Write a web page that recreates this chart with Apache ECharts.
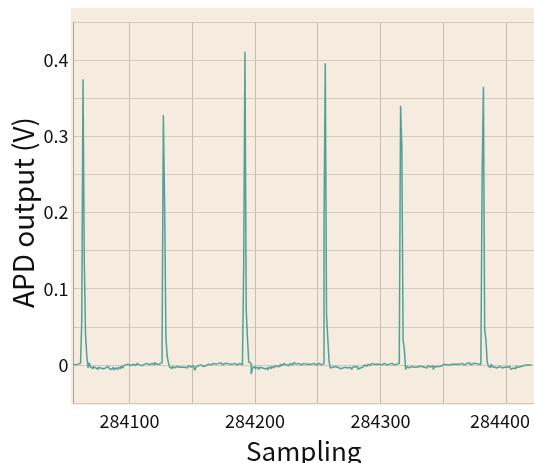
<!DOCTYPE html>
<html>
<head>
<meta charset="utf-8">
<script src="https://cdn.jsdelivr.net/npm/echarts@6/dist/echarts.min.js"></script>
<style>
html,body{margin:0;padding:0;background:#ffffff;}
#chart{width:534px;height:463px;}
</style>
</head>
<body>
<div id="chart"></div>
<script>
// first sampling index of the trace
var startSample = 284055;
// APD output (V), one value per sample, split into baseline stretches and pulses
var base0 = [0.001, 0.000, 0.002, 0.001, 0.000, 0.002, 0.001];
var pulse1 = [0.059, 0.375, 0.134, 0.039, 0.012];
var base1 = [-0.004, 0.003, -0.003, -0.005, -0.002, -0.004, -0.003, -0.006, -0.003, -0.004,
  -0.002, -0.005, -0.003, -0.004, -0.003, -0.002, -0.004, -0.005, -0.006, -0.004,
  -0.003, -0.007, -0.004, -0.006, -0.003, -0.005, -0.002, -0.004,
  -0.001, 0.000, -0.001, 0.001, 0.000, -0.001, 0.000, 0.001, 0.000, -0.001,
  0.001, 0.002, 0.000, 0.001, -0.001, 0.000, 0.001, 0.000, 0.002, 0.001,
  0.000, 0.001, 0.002, 0.001, 0.000, 0.003, 0.001, 0.002, 0.001, 0.002, 0.003];
var pulse2 = [0.029, 0.328, 0.211, 0.038, 0.012];
var base2 = [0.003, -0.003, -0.005, -0.002, -0.004, -0.003, -0.002, -0.004, -0.003, -0.002,
  -0.003, -0.001, -0.003, -0.002, -0.004, -0.002, -0.001, -0.003, -0.002, -0.001,
  -0.002, -0.007, -0.003, -0.001, -0.002, 0.000, -0.001, -0.002, 0.000, -0.001,
  0.000, 0.001, -0.001, 0.000, 0.001, 0.002, 0.000, 0.001, 0.000, 0.002,
  0.001, 0.003, 0.001, 0.000, 0.002, 0.001, 0.002, 0.000, 0.001, 0.002,
  0.001, 0.000, 0.002, 0.001, 0.000, 0.001, 0.002, 0.001, 0.000, 0.002];
var pulse3 = [0.129, 0.411, 0.072, 0.035];
var base3 = [0.004, 0.002, -0.012, -0.004, -0.002, -0.005, -0.003, -0.004, -0.006, -0.003,
  -0.004, -0.002, -0.005, -0.003, -0.004, -0.007, -0.003, -0.005, -0.002, -0.004,
  -0.003, -0.001, -0.002, 0.000, -0.002, 0.001, -0.001, 0.000, 0.002, 0.000,
  0.001, -0.001, 0.001, 0.002, 0.000, 0.001, 0.003, 0.001, 0.000, 0.002,
  0.001, 0.000, 0.001, 0.002, 0.000, 0.001, 0.002, 0.001, 0.003, 0.001,
  0.000, 0.002, 0.001, 0.000, 0.001, 0.002, 0.001, 0.000, 0.001, 0.002];
var pulse4 = [0.182, 0.396, 0.066, 0.035];
var base4 = [0.005, -0.004, -0.003, -0.005, -0.002, -0.004, -0.003, -0.002, -0.005, -0.003,
  -0.004, -0.002, -0.003, -0.001, -0.004, -0.002, -0.003, -0.005, -0.006, -0.003,
  -0.002, -0.004, -0.003, -0.006, -0.004, -0.002, -0.003, -0.001,
  0.000, -0.002, 0.000, 0.001, -0.001, 0.000, 0.002, 0.001, 0.000, 0.001,
  0.003, 0.001, 0.002, 0.000, 0.001, 0.002, 0.001, 0.000, 0.002, 0.001,
  0.003, 0.002, 0.001, 0.000, 0.002, 0.001, 0.003, 0.002];
var pulse5 = [0.016, 0.340, 0.286, 0.033, 0.020];
var base5 = [-0.006, -0.002, -0.004, -0.003, -0.002, -0.004, -0.003, -0.002, -0.003, -0.001,
  -0.002, -0.003, -0.002, -0.001, -0.003, -0.002, -0.004, -0.002, -0.001, -0.003,
  -0.002, -0.001, -0.006, -0.003, -0.002, -0.001, -0.002, 0.000, -0.001, 0.000,
  0.001, -0.001, 0.000, 0.001, 0.000, 0.002, 0.001, 0.000, 0.001, 0.002,
  0.001, 0.003, 0.001, 0.000, 0.002, 0.001, 0.000, 0.001, 0.002, 0.001,
  0.003, 0.001, 0.000, 0.002, 0.001, 0.002, 0.000, 0.001, 0.002, 0.001];
var pulse6 = [0.010, 0.250, 0.365, 0.046, 0.033];
var base6 = [0.004, -0.002, -0.003, 0.001, -0.002, -0.003, -0.002, -0.004, -0.003, -0.002,
  -0.003, -0.004, -0.002, -0.003, -0.005, -0.003, -0.004, -0.002, -0.003, -0.006,
  -0.004, -0.003, -0.005, -0.002, -0.003, -0.001, -0.002, 0.000, -0.001, 0.001,
  0.000, 0.001, 0.000, 0.001, 0.000, 0.001];

// axis ranges and tick labels
var xRange = [284055.4, 284422.3];
var xTickLabels = ['284100', '284200', '284300', '284400'];
var yRange = [-0.05, 0.45];
var yTickLabels = ['0', '0.1', '0.2', '0.3', '0.4'];

var apd = [].concat(base0, pulse1, base1, pulse2, base2, pulse3, base3,
  pulse4, base4, pulse5, base5, pulse6, base6);
var seriesData = apd.map(function (v, i) { return [startSample + i, v]; });

var FONT = '"Noto Sans CJK JP", "Noto Sans", sans-serif';
var chart = echarts.init(document.getElementById('chart'), null, {renderer: 'canvas'});
chart.setOption({
  animation: false,
  backgroundColor: '#ffffff',
  graphic: [{
    type: 'rect', z: -10, silent: true,
    shape: {x: 71, y: 8, width: 463, height: 397},
    style: {fill: '#f5ecdf'}
  }],
  grid: {left: 73.5, right: 0, top: 22, bottom: 60, containLabel: false, outerBoundsMode: 'none'},
  xAxis: {
    type: 'value',
    min: xRange[0], max: xRange[1],
    splitNumber: 8, minInterval: 50, maxInterval: 50,
    axisLine: {show: true, lineStyle: {color: '#cfc7bc', width: 1}},
    axisTick: {show: false},
    splitLine: {show: true, lineStyle: {color: '#c6beb4', width: 1}},
    axisLabel: {
      color: '#111', fontSize: 18, fontFamily: FONT, margin: 9,
      showMinLabel: false, showMaxLabel: false,
      formatter: function (v) {
        var s = String(Math.round(v));
        if (xTickLabels.indexOf(s) < 0 || Math.abs(v - Math.round(v)) > 1e-6) return '';
        if (s === xTickLabels[xTickLabels.length - 1]) return '{last|' + s + '}';
        return s;
      },
      rich: {last: {fontSize: 18, fontFamily: FONT, color: '#111', padding: [0, 12, 0, 0]}}
    },
    name: 'Sampling', nameLocation: 'middle', nameGap: 35, nameMoveOverlap: false,
    nameTextStyle: {fontSize: 26, fontFamily: FONT, color: '#111'}
  },
  yAxis: {
    type: 'value',
    min: yRange[0], max: yRange[1], interval: 0.05,
    axisLine: {show: true, lineStyle: {color: '#a8a29a', width: 1}},
    axisTick: {show: false},
    splitLine: {show: true, lineStyle: {color: '#d4cbc0', width: 1}},
    axisLabel: {
      color: '#111', fontSize: 18, fontFamily: FONT, margin: 5,
      padding: [5, 0, 0, 0],
      formatter: function (v) {
        var s = String(Math.round(v * 10) / 10);
        if (Math.abs(v * 10 - Math.round(v * 10)) > 1e-6) return '';
        return yTickLabels.indexOf(s) >= 0 ? s : '';
      }
    },
    name: 'APD output (V)', nameLocation: 'middle', nameGap: 36, nameRotate: 90,
    nameMoveOverlap: false,
    nameTextStyle: {fontSize: 28, fontFamily: FONT, color: '#111'}
  },
  series: [{
    type: 'line',
    step: 'end',
    data: seriesData,
    showSymbol: false,
    symbol: 'none',
    lineStyle: {color: '#4fa199', width: 1.5},
    clip: true
  }]
});
</script>
</body>
</html>
